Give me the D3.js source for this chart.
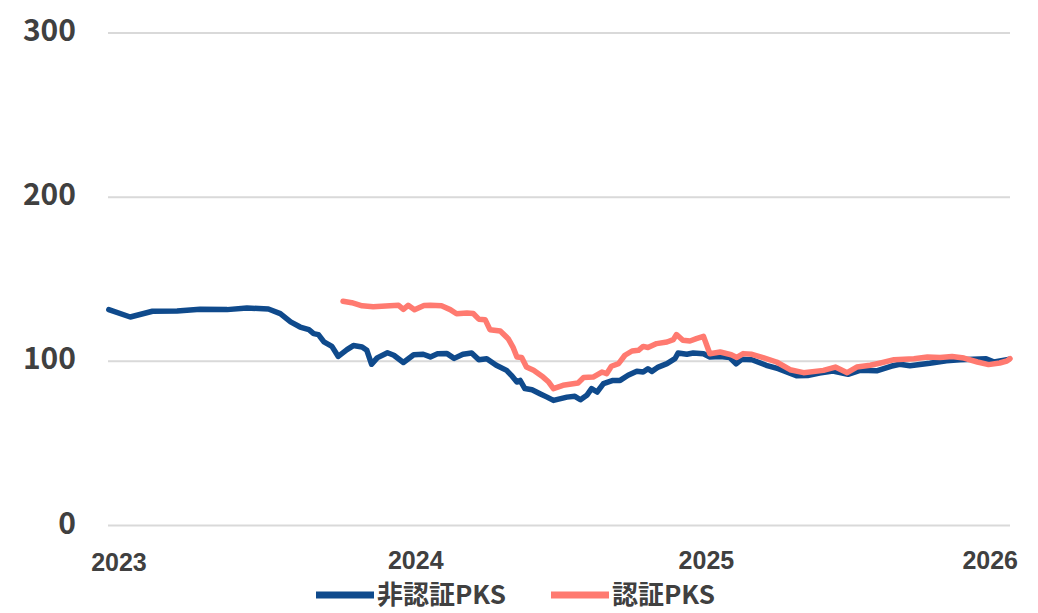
<!DOCTYPE html>
<html>
<head>
<meta charset="utf-8">
<script src="https://cdn.jsdelivr.net/npm/d3@7"></script>
<style>
    body { margin: 0; background: #ffffff; }
    svg text { font-family: "Noto Sans CJK JP", "Noto Sans", sans-serif; fill: #404040; font-weight: bold; }
</style>
</head>
<body>
<div id="chart"></div>
<script>
// Series: 非認証PKS (non-certified) and 認証PKS (certified), index values
const nonCertDates = [
    "2022-12-11", "2023-01-07", "2023-02-04", "2023-03-07", "2023-04-05", "2023-05-09", "2023-06-03",
    "2023-06-30", "2023-07-15", "2023-07-28", "2023-08-09", "2023-08-20", "2023-08-26", "2023-09-01",
    "2023-09-08", "2023-09-18", "2023-09-26", "2023-10-07", "2023-10-15", "2023-10-26", "2023-11-01",
    "2023-11-07", "2023-11-14", "2023-11-27", "2023-12-05", "2023-12-17", "2023-12-30", "2024-01-11",
    "2024-01-20", "2024-01-29", "2024-02-10", "2024-02-19", "2024-03-01", "2024-03-12", "2024-03-21",
    "2024-03-31", "2024-04-12", "2024-04-25", "2024-05-01", "2024-05-08", "2024-05-12", "2024-05-18",
    "2024-05-27", "2024-06-06", "2024-06-15", "2024-06-23", "2024-07-10", "2024-07-20", "2024-07-27",
    "2024-08-04", "2024-08-10", "2024-08-17", "2024-08-25", "2024-09-06", "2024-09-15", "2024-09-25",
    "2024-10-06", "2024-10-14", "2024-10-20", "2024-10-25", "2024-11-02", "2024-11-13", "2024-11-23",
    "2024-11-27", "2024-12-08", "2024-12-16", "2024-12-29", "2025-01-06", "2025-01-19", "2025-01-31",
    "2025-02-08", "2025-02-15", "2025-02-28", "2025-03-18", "2025-04-02", "2025-04-25", "2025-05-09",
    "2025-05-24", "2025-06-10", "2025-06-29", "2025-07-14", "2025-08-04", "2025-08-22", "2025-09-02",
    "2025-09-15", "2025-10-10", "2025-10-31", "2025-11-17", "2025-12-20", "2025-12-30", "2026-01-17"
];
const nonCertValues = [
    131.5, 127.0, 130.5, 130.7, 131.7, 131.5, 132.5,
    131.9, 129.1, 124.0, 120.9, 119.3, 116.9, 116.3,
    111.8, 109.1, 103.0, 107.1, 109.6, 108.7, 106.7,
    98.2, 102.1, 105.2, 103.7, 99.3, 104.0, 104.3,
    102.7, 104.6, 104.7, 101.8, 104.3, 105.1, 101.0,
    101.6, 97.6, 94.5, 91.5, 87.4, 88.4, 83.4,
    82.7, 80.3, 78.2, 76.2, 78.2, 78.7, 76.6,
    79.3, 83.4, 81.3, 86.4, 88.4, 88.4, 91.5,
    93.9, 93.5, 95.5, 93.9, 96.5, 98.6, 101.6,
    105.1, 104.3, 105.1, 104.6, 102.6, 102.9, 102.3,
    98.5, 101.2, 101.0, 97.6, 95.5, 91.2, 91.3,
    92.9, 94.1, 92.1, 94.5, 94.2, 97.0, 98.2,
    97.3, 98.8, 100.3, 101.0, 101.5, 99.6, 101.2
];

const certDates = [
    "2023-10-02", "2023-10-13", "2023-10-26", "2023-11-09", "2023-11-30", "2023-12-11", "2023-12-17",
    "2023-12-23", "2023-12-31", "2024-01-12", "2024-01-20", "2024-02-03", "2024-02-14", "2024-02-22",
    "2024-03-06", "2024-03-14", "2024-03-21", "2024-03-29", "2024-04-04", "2024-04-17", "2024-04-27",
    "2024-05-03", "2024-05-08", "2024-05-14", "2024-05-20", "2024-05-29", "2024-06-10", "2024-06-17",
    "2024-06-23", "2024-07-05", "2024-07-24", "2024-07-31", "2024-08-12", "2024-08-23", "2024-08-29",
    "2024-09-04", "2024-09-13", "2024-09-21", "2024-09-30", "2024-10-08", "2024-10-14", "2024-10-20",
    "2024-10-31", "2024-11-13", "2024-11-21", "2024-11-25", "2024-12-03", "2024-12-12", "2024-12-20",
    "2024-12-29", "2025-01-06", "2025-01-19", "2025-02-02", "2025-02-09", "2025-02-17", "2025-02-28",
    "2025-03-14", "2025-03-31", "2025-04-17", "2025-05-04", "2025-05-29", "2025-06-13", "2025-06-28",
    "2025-07-10", "2025-07-27", "2025-08-09", "2025-08-26", "2025-09-20", "2025-10-07", "2025-10-23",
    "2025-11-07", "2025-11-22", "2025-12-09", "2025-12-23", "2026-01-06", "2026-01-15", "2026-01-19"
];
const certValues = [
    136.6, 135.7, 133.8, 133.2, 133.8, 134.1, 131.7,
    134.1, 131.4, 134.0, 134.1, 133.8, 131.5, 129.0,
    129.5, 129.1, 125.7, 125.4, 119.3, 118.5, 113.8,
    108.7, 102.6, 102.3, 96.5, 94.5, 90.4, 87.4,
    83.4, 85.4, 86.8, 90.1, 90.4, 93.5, 92.5,
    97.0, 98.6, 103.7, 106.3, 106.7, 109.1, 108.4,
    110.8, 111.8, 113.2, 116.3, 112.8, 112.4, 113.8,
    115.2, 104.6, 105.7, 104.0, 102.4, 104.7, 104.3,
    102.3, 99.6, 94.9, 93.1, 94.5, 96.5, 93.1,
    96.5, 97.6, 99.0, 101.0, 101.6, 102.6, 102.3,
    103.0, 102.0, 99.6, 98.0, 99.0, 100.2, 101.6
];

const seriesNames = ["非認証PKS", "認証PKS"];
const seriesColors = ["#0f4a8c", "#ff7a70"];
const yTicks = [0, 100, 200, 300];
const xTickLabels = ["2023", "2024", "2025", "2026"];
const xDomain = ["2022-12-10", "2026-01-19"];

const WIDTH = 1038;
const HEIGHT = 613;
const margin = {left: 108, right: 28, top: 33, bottom: 88};

const parseDate = d3.timeParse("%Y-%m-%d");

const svg = d3.select("#chart")
    .append("svg")
    .attr("width", WIDTH)
    .attr("height", HEIGHT);

const xScale = d3.scaleTime()
    .domain(xDomain.map(parseDate))
    .range([margin.left, WIDTH - margin.right]);

const yScale = d3.scaleLinear()
    .domain([0, 300])
    .range([HEIGHT - margin.bottom + 0.5, margin.top]);

// Horizontal gridlines
svg.append("g")
    .selectAll("line")
    .data(yTicks)
    .enter()
    .append("line")
    .attr("x1", margin.left)
    .attr("x2", WIDTH - margin.right)
    .attr("y1", d => yScale(d))
    .attr("y2", d => yScale(d))
    .attr("stroke", "#d9d9d9")
    .attr("stroke-width", 2);

// Y-axis labels (no axis line)
const yAxis = svg.append("g")
    .attr("transform", `translate(76,0)`)
    .call(d3.axisLeft(yScale).tickValues(yTicks).tickSize(0).tickPadding(0));
yAxis.select(".domain").remove();
yAxis.selectAll("text")
    .attr("font-size", 30)
    .attr("dy", "0.25em")
    .attr("y", 0)
    .style("font-family", "\"Noto Sans CJK JP\", sans-serif");

// X-axis labels at each year start
const xAxis = svg.append("g")
    .attr("transform", `translate(0,551)`)
    .call(d3.axisBottom(xScale)
        .tickValues(xTickLabels.map(y => parseDate(`${y}-01-01`)))
        .tickFormat(d3.timeFormat("%Y"))
        .tickSize(0).tickPadding(0));
xAxis.select(".domain").remove();
xAxis.selectAll("text")
    .attr("font-size", 25)
    .attr("dy", "0.72em")
    .style("font-family", "\"Liberation Sans\", Arial, sans-serif");
// Excel keeps the edge labels inside the plot area
xAxis.selectAll("text").filter(d => d.getFullYear() === 2023).attr("x", -7).attr("y", 2);
xAxis.selectAll("text").filter(d => d.getFullYear() === 2026).attr("x", -6);

// Lines
const line = d3.line()
    .x(d => xScale(d.date))
    .y(d => yScale(d.value));

const nonCert = nonCertDates.map((d, i) => ({date: parseDate(d), value: nonCertValues[i]}));
const cert = certDates.map((d, i) => ({date: parseDate(d), value: certValues[i]}));

[nonCert, cert].forEach((data, i) => {
    svg.append("path")
        .datum(data)
        .attr("d", line)
        .attr("fill", "none")
        .attr("stroke", seriesColors[i])
        .attr("stroke-width", 5.5)
        .attr("stroke-linejoin", "round")
        .attr("stroke-linecap", "round");
});

// Legend
const legendItems = [
    {x: 316, name: seriesNames[0], color: seriesColors[0]},
    {x: 551, name: seriesNames[1], color: seriesColors[1]}
];
const legend = svg.append("g").attr("transform", "translate(0,595)");
legendItems.forEach(item => {
    legend.append("line")
        .attr("x1", item.x)
        .attr("x2", item.x + 58)
        .attr("stroke", item.color)
        .attr("stroke-width", 7);
    legend.append("text")
        .attr("x", item.x + 61)
        .attr("dy", "0.34em")
        .attr("font-size", 26)
        .text(item.name);
});
</script>
</body>
</html>
